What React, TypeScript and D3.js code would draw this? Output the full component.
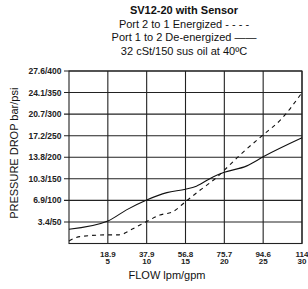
import React from "react";
import * as d3 from "d3";

// flow in gpm, pressure drop in psi
const psiTicks = [50, 100, 150, 200, 250, 300, 350, 400];
const psiLabels = ["3.4/50", "6.9/100", "10.3/150", "13.8/200", "17.2/250", "20.7/300", "24.1/350", "27.6/400"];
const gpmTicks = [5, 10, 15, 20, 25, 30];
const lpmLabels = ["18.9", "37.9", "56.8", "75.7", "94.6", "114"];

const deEnergizedFlow = [0, 5, 7.4, 10, 12.6, 15, 16.4, 18.6, 20, 22.9, 25, 30];
const deEnergizedPsi = [33, 52, 78, 101, 118, 126, 133, 155, 165, 180, 201, 245];
const energizedFlow = [0, 1.4, 5, 6.4, 8.3, 10, 11.7, 13.4, 15, 16.9, 19, 20, 22, 25, 27.2, 30];
const energizedPsi = [6, 16, 20, 20, 35, 51, 66, 74, 97, 124, 153, 170, 205, 252, 286, 350];

const W = 308;
const H = 289;
const left = 69;
const right = 302;
const top = 71;
const bottom = 243.5;

const App: React.FC = () => {
  const x = d3.scaleLinear().domain([0, 30]).range([left, right]);
  const y = d3.scaleLinear().domain([0, 400]).range([bottom, top]);

  const line = d3
    .line<[number, number]>()
    .x((d) => x(d[0]))
    .y((d) => y(d[1]))
    .curve(d3.curveMonotoneX);

  const solid = line(deEnergizedFlow.map((g, i) => [g, deEnergizedPsi[i]]))!;
  const dashed = line(energizedFlow.map((g, i) => [g, energizedPsi[i]]))!;

  const font = "Liberation Sans, Arial, sans-serif";

  return (
    <svg
      width={W}
      height={H}
      style={{ position: "absolute", left: 0, top: 0, background: "#fff" }}
      fontFamily={font}
    >
      <g textAnchor="middle" fill="#111" fontSize={11}>
        <text x={184} y={14} fontWeight="bold">SV12-20 with Sensor</text>
        <text x={184} y={27.5}>Port 2 to 1 Energized - - - -</text>
        <text x={184} y={41}>Port 1 to 2 De-energized ——</text>
        <text x={184} y={54.5}>32 cSt/150 sus oil at 40ºC</text>
      </g>

      {/* grid */}
      <g stroke="#222" strokeWidth={1.1}>
        {psiTicks.map((p) => (
          <line key={p} x1={left - 5} x2={right} y1={y(p)} y2={y(p)} />
        ))}
        {gpmTicks.map((g) => (
          <line key={g} x1={x(g)} x2={x(g)} y1={top} y2={bottom} />
        ))}
        <rect x={left} y={top} width={right - left} height={bottom - top} fill="none" />
      </g>

      {/* y labels */}
      <g fontSize={8.5} fontWeight="bold" fill="#222" textAnchor="end">
        {psiTicks.map((p, i) => (
          <text key={p} x={61.5} y={y(p) + 3}>{psiLabels[i]}</text>
        ))}
      </g>

      {/* x labels */}
      <g fontSize={8} fontWeight="bold" fill="#222" textAnchor="middle">
        {gpmTicks.map((g, i) => (
          <g key={g}>
            <text x={x(g)} y={256.5}>{lpmLabels[i]}</text>
            <text x={x(g)} y={264}>{g}</text>
          </g>
        ))}
      </g>

      <text x={167} y={279} fontSize={11} textAnchor="middle" fill="#111">FLOW lpm/gpm</text>
      <text
        transform={`translate(18,${(top + bottom) / 2 - 4}) rotate(-90)`}
        fontSize={11}
        textAnchor="middle"
        fill="#111"
      >
        PRESSURE DROP bar/psi
      </text>

      <path d={solid} fill="none" stroke="#111" strokeWidth={1.1} />
      <path d={dashed} fill="none" stroke="#111" strokeWidth={1.1} strokeDasharray="4,4" />
    </svg>
  );
};

export default App;
